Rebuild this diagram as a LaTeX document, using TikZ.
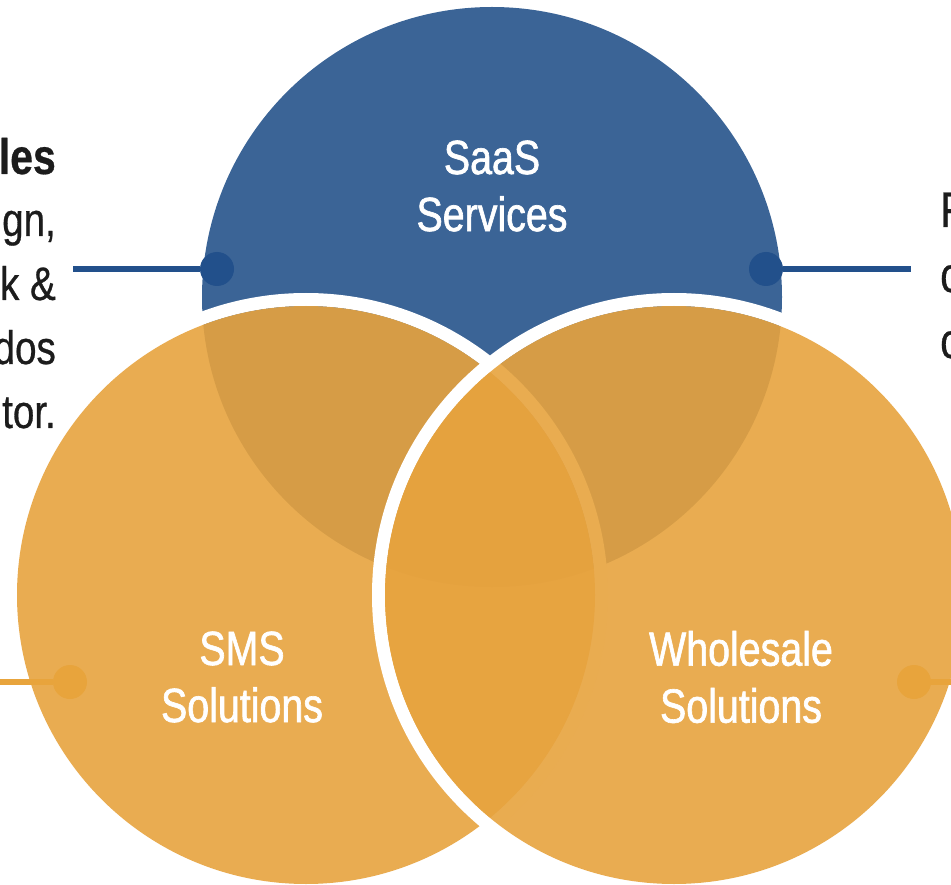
\documentclass[tikz,border=0pt]{standalone}
\usepackage{fontspec}
\setmainfont{Liberation Sans}[FakeStretch=0.82]
\newfontfamily\labelfont{Liberation Sans}[FakeStretch=0.82,FakeBold=1.3]
\newfontfamily\sidefont{Liberation Sans}[FakeStretch=0.82,FakeBold=0.6]
\definecolor{saasblue}{RGB}{59,100,150}
\definecolor{dotblue}{RGB}{34,80,139}
\definecolor{vennorange}{RGB}{231,163,62}
\definecolor{dotorange}{RGB}{232,164,60}
\definecolor{textgray}{RGB}{28,28,28}
\begin{document}
\begin{tikzpicture}[x=1pt,y=-1pt,
  venn/.style={fill=vennorange,fill opacity=.9},
  ring/.style={draw=white,line width=13pt},
  joint/.style={circle,inner sep=0pt,minimum size=34pt},
  bluelink/.style={draw=dotblue,line width=6pt},
  orangelink/.style={draw=dotorange,line width=6pt},
  circlabel/.style={text=white,align=center,inner sep=0pt,font=\labelfont\fontsize{48}{57}\selectfont},
  sidetext/.style={text=textgray,inner sep=0pt,font=\sidefont\fontsize{47}{64}\selectfont},
  sidehead/.style={text=textgray,inner sep=0pt,font=\sidefont\fontsize{50}{64}\selectfont}]
\useasboundingbox (0,0) rectangle (951,885);
% the three circles
\fill[saasblue] (492,297) circle (290pt);
\draw[ring] (306,595) circle (295.5pt);
\fill[venn] (306,595) circle (289pt);
\draw[ring] (674,595) circle (295.5pt);
\fill[venn] (674,595) circle (289pt);
% labels in the circles
\node[circlabel] (saas) at (492,186) {SaaS\\Services};
\node[circlabel] (sms) at (242,677) {SMS\\Solutions};
\node[circlabel] (wholesale) at (741,677) {Wholesale\\Solutions};
% connectors and their dots
\coordinate (saasLend) at (73,269); \coordinate (saasRend) at (911,269);
\coordinate (smsend) at (0,682); \coordinate (wholesaleend) at (951,682);
\node[joint,fill=dotblue] (saasL) at (217,269) {};
\node[joint,fill=dotblue] (saasR) at (766,269) {};
\node[joint,fill=dotorange] (smsdot) at (70,682) {};
\node[joint,fill=dotorange] (wholesaledot) at (914,682) {};
\draw[bluelink] (saasLend) -- (saasL); \draw[bluelink] (saasR) -- (saasRend);
\draw[orangelink] (smsend) -- (smsdot); \draw[orangelink] (wholesaledot) -- (wholesaleend);
% text beside the circles
\node[sidehead,anchor=base east] (l1) at (56,174) {\bfseries les};
\node[sidetext,anchor=base east] (l2) at (56,236) {gn,};
\node[sidetext,anchor=base east] (l3) at (56,300) {k \&};
\node[sidetext,anchor=base east] (l4) at (56,364) {dos};
\node[sidetext,anchor=base east] (l5) at (56,428) {tor.};
\node[sidehead,anchor=base west] (r1) at (940,227) {F};
\node[sidehead,anchor=base west] (r2) at (940,292) {c};
\node[sidehead,anchor=base west] (r3) at (940,358) {c};
\end{tikzpicture}
\end{document}
